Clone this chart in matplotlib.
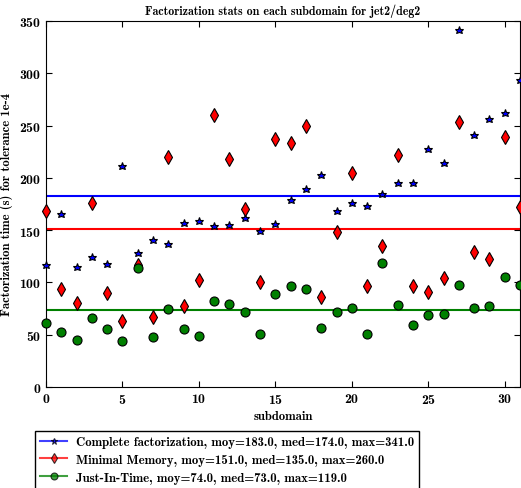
import matplotlib
matplotlib.use('Agg')
import matplotlib.pyplot as plt
from matplotlib.lines import Line2D

plt.rcParams['font.family'] = ['cmb10', 'DejaVu Serif']
plt.rcParams['axes.formatter.use_mathtext'] = True
plt.rcParams['mathtext.fontset'] = 'cm'

subdomains = list(range(32))
complete = [117, 165, 115, 124, 118, 211, 128, 141, 137, 157, 159, 154, 155, 162, 149, 156,
            179, 189, 203, 168, 176, 173, 185, 195, 195, 228, 214, 341, 241, 256, 262, 294]
minimal = [168, 94, 80, 176, 90, 63, 117, 67, 220, 77, 102, 260, 218, 170, 100, 237,
           233, 250, 86, 148, 205, 97, 135, 222, 97, 91, 104, 253, 129, 122, 239, 172]
jit = [61, 53, 45, 66, 55, 44, 114, 48, 75, 55, 49, 82, 79, 72, 51, 89,
       97, 94, 56, 72, 76, 51, 119, 78, 59, 69, 70, 98, 76, 77, 105, 98]
means = [183.0, 151.0, 74.0]
medians = [174.0, 135.0, 73.0]
maxes = [341.0, 260.0, 119.0]
names = ['Complete factorization', 'Minimal Memory', 'Just-In-Time']

fig = plt.figure(figsize=(5.21, 4.89), dpi=100)
ax = fig.add_axes([46/521, 1 - 388/489, 474/521, 366/489])

colors = ['#0000ff', '#ff0000', '#008000']
markers = ['*', 'd', 'o']
msizes = [6.2, 7, 6.5]
leg_sizes = [5, 5.5, 5]
handles = []
for y, m, c, ms, ls, mean, med, mx, name in zip([complete, minimal, jit], markers, colors, msizes,
                                                  leg_sizes, means, medians, maxes, names):
    ax.axhline(mean, color=c, linewidth=1.5, zorder=1)
    ax.plot(subdomains, y, linestyle='none', marker=m, markersize=ms, color=c,
            markeredgecolor='black', markeredgewidth=0.8, zorder=3, clip_on=False)
    handles.append(Line2D([], [], color=c, marker=m, markersize=ls, markeredgecolor='black',
                          markeredgewidth=0.8, linewidth=1.5, alpha=0.75,
                          label='%s, moy=%.1f, med=%.1f, max=%.1f' % (name, mean, med, mx)))

ax.set_xlim(0, 31)
ax.set_ylim(0, 350)
ax.set_xticks(range(0, 31, 5))
ax.set_yticks(range(0, 351, 50))
ax.tick_params(direction='in', top=True, right=True, labelsize=10, length=4)
ax.set_title('Factorization stats on each subdomain for jet2/deg2', fontsize=8.6, pad=5)
ax.set_xlabel('subdomain', fontsize=9.1, labelpad=3)
ax.set_ylabel('Factorization time (s) for tolerance 1e-4', fontsize=9.1)
ax.yaxis.set_label_coords(-0.07, 0.5)

leg = fig.legend(handles=handles, loc='upper left', bbox_to_anchor=(35/521, 1 - 432/489),
                 fontsize=9.2, fancybox=False, edgecolor='black', framealpha=1,
                 borderaxespad=0, handlelength=2.1, handletextpad=0.7, labelspacing=0.45)
leg.get_frame().set_linewidth(1.0)

fig.savefig('out.png', dpi=100)
